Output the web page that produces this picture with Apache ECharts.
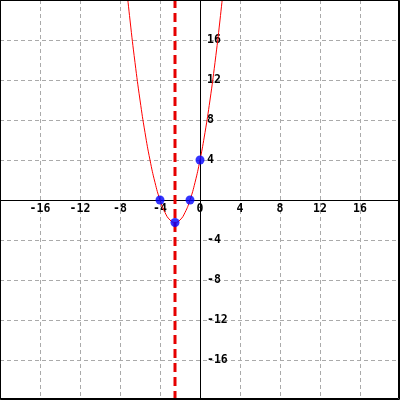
<!DOCTYPE html>
<html><head><meta charset="utf-8">
<script src="https://cdn.jsdelivr.net/npm/echarts@6/dist/echarts.min.js"></script>
<style>html,body{margin:0;padding:0;background:#fff}#c{width:400px;height:400px}</style>
</head><body><div id="c"></div>
<script>
// Curve points (x, y)
const curveX = [-7.5,-7,-6.5,-6,-5.5,-5,-4.5,-4,-3.5,-3,-2.5,-2,-1.5,-1,-0.5,0,0.5,1,1.5,2,2.5];
const curveY = [22.75,18,13.75,10,6.75,4,1.75,0,-1.25,-2,-2.25,-2,-1.25,0,1.75,4,6.75,10,13.75,18,22.75];
// Marked points
const pointX = [-4,-1,-2.5,0];
const pointY = [0,0,-2.25,4];
// Vertical dashed line (axis of symmetry)
const axisOfSymmetryX = -2.5;
// Axis ranges / ticks
const axisMin = -20, axisMax = 20, tickStep = 4;

const chart = echarts.init(document.getElementById('c'), null, {renderer:'canvas'});
const labelFont = {fontFamily:'DejaVu Sans Mono', fontWeight:'bold', fontSize:11.5, color:'#000'};
chart.setOption({
  animation:false,
  backgroundColor:'#fff',
  grid:{left:0,right:0,top:0,bottom:0,containLabel:false,outerBoundsMode:'none'},
  xAxis:{
    type:'value', min:axisMin, max:axisMax, interval:tickStep, position:'bottom', offset:-200,
    axisLine:{onZero:false, lineStyle:{color:'#000',width:1}},
    axisTick:{show:false},
    axisLabel:Object.assign({margin:3, showMinLabel:false, showMaxLabel:false,
      formatter:v=> (v===axisMin||v===axisMax)?'':String(v)}, labelFont),
    splitLine:{show:true, lineStyle:{color:'#aaaaaa', type:[4,3], width:1}}
  },
  yAxis:{
    type:'value', min:axisMin, max:axisMax, interval:tickStep, position:'left', offset:-200,
    axisLine:{onZero:false, lineStyle:{color:'#000',width:1}},
    axisTick:{show:false},
    axisLabel:Object.assign({inside:true, margin:7, showMinLabel:false, showMaxLabel:false,
      formatter:v=> (v===0||v===axisMin||v===axisMax)?'':String(v)}, labelFont),
    splitLine:{show:true, lineStyle:{color:'#aaaaaa', type:[4,3], width:1}}
  },
  series:[
    {type:'line', data:[[axisOfSymmetryX,axisMin],[axisOfSymmetryX,axisMax]], symbol:'none',
     lineStyle:{color:'#e60000', width:3, type:[9,5]}, z:3},
    {type:'line', data:curveX.map((x,i)=>[x,curveY[i]]), smooth:true, symbol:'none', clip:true,
     lineStyle:{color:'#ff0000', width:1}, z:4},
    {type:'scatter', data:pointX.map((x,i)=>[x,pointY[i]]), symbolSize:9,
     itemStyle:{color:'#0000ff'}, z:5}
  ],
  graphic:[
    {type:'rect', shape:{x:0.5,y:0.5,width:398,height:398}, style:{fill:null,stroke:'#000',lineWidth:1}, z:100},
    {type:'rect', shape:{x:0.5,y:0.5,width:399,height:399}, style:{fill:null,stroke:'#000',lineWidth:1}, z:100}
  ]
});
</script></body></html>
